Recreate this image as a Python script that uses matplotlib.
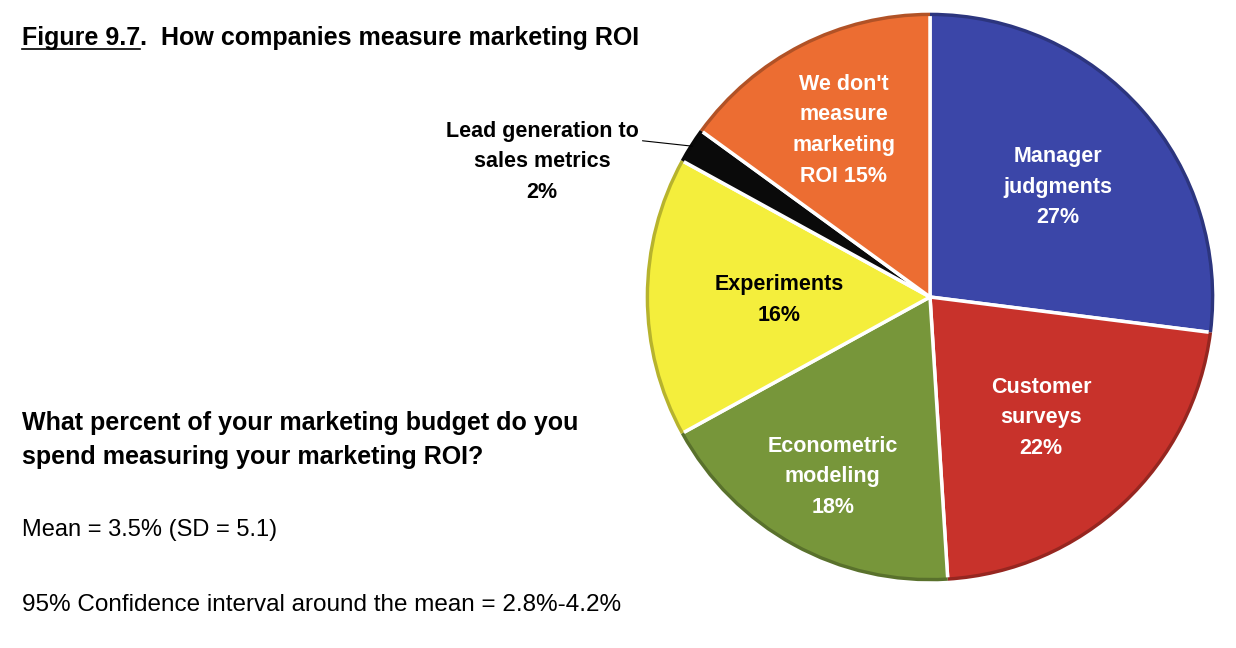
import matplotlib
matplotlib.use("Agg")
import matplotlib.pyplot as plt
import numpy as np

# slice data, clockwise from 12 o'clock
labels = ["Manager\njudgments\n27%", "Customer\nsurveys\n22%", "Econometric\nmodeling\n18%",
          "Experiments\n16%", "Lead generation to\nsales metrics\n2%",
          "We don't\nmeasure\nmarketing\nROI 15%"]
values = [27, 22, 18, 16, 2, 15]
colors = ["#3b46a8", "#c8322b", "#77963a", "#f4ee3c", "#0a0a0a", "#ec6d32"]
text_colors = ["white", "white", "white", "black", "black", "white"]
label_radius = [0.60, 0.57, 0.71, 0.53, None, 0.67]

title_fig = "Figure 9.7"
title_rest = ".  How companies measure marketing ROI"
question = "What percent of your marketing budget do you\nspend measuring your marketing ROI?"
mean_text = "Mean = 3.5% (SD = 5.1)"
ci_text = "95% Confidence interval around the mean = 2.8%-4.2%"

plt.rcParams["font.family"] = ["Liberation Sans Narrow", "Liberation Sans", "DejaVu Sans"]

W, H = 1236, 648
fig = plt.figure(figsize=(W / 100, H / 100), dpi=100)

# pie axes: centre (930, 297) px, radius 290 px
cx, cy, r = 930, 297, 290
ax = fig.add_axes([(cx - r) / W, (H - cy - r) / H, 2 * r / W, 2 * r / H])
wedges, _ = ax.pie(values, colors=colors, startangle=90, counterclock=False,
                   radius=1.0, wedgeprops=dict(edgecolor="white", linewidth=2.5))
# darker rim for a bit of depth
for w, c in zip(wedges, colors):
    rgb = np.array(matplotlib.colors.to_rgb(c)) * 0.75
    ax.add_patch(matplotlib.patches.Wedge((0, 0), 1.0, w.theta1, w.theta2, width=0.012,
                                          facecolor=rgb, edgecolor="none"))
ax.set_xlim(-1.02, 1.02)
ax.set_ylim(-1.02, 1.02)
ax.set_aspect("equal")
ax.axis("off")

for w, lab, tc, lr in zip(wedges, labels, text_colors, label_radius):
    mid = np.radians((w.theta1 + w.theta2) / 2)
    if lr is not None:
        ax.text(lr * np.cos(mid), lr * np.sin(mid) - 0.01, lab, ha="center", va="center",
                color=tc, fontsize=15.5, fontweight="bold", linespacing=1.6)
    else:
        x0, y0 = 0.99 * np.cos(mid), 0.99 * np.sin(mid)
        ax.annotate(lab, xy=(x0, y0), xytext=(x0 - 0.19, y0 + 0.09),
                    ha="right", va="top", fontsize=15.5, fontweight="bold",
                    multialignment="center", linespacing=1.6,
                    arrowprops=dict(arrowstyle="-", color="black", lw=0.8,
                                    shrinkA=1, shrinkB=0, relpos=(1.0, 0.76)),
                    annotation_clip=False)

# title with underlined "Figure 9.7"
t1 = fig.text(22 / W, 1 - 45 / H, title_fig, fontsize=18, fontweight="bold", va="baseline")
fig.canvas.draw()
bb = t1.get_window_extent()
fig.add_artist(plt.Line2D([bb.x0 / W, bb.x1 / W], [(H - 49) / H, (H - 49) / H],
                          color="black", lw=1.2, transform=fig.transFigure))
fig.text(bb.x1 / W, 1 - 45 / H, title_rest, fontsize=18, fontweight="bold", va="baseline")

fig.text(22 / W, 1 - 440 / H, question, fontsize=18, fontweight="bold", va="center",
         linespacing=1.55)
fig.text(22 / W, 1 - 530 / H, mean_text, fontsize=17, va="center")
fig.text(22 / W, 1 - 605 / H, ci_text, fontsize=17.5, va="center")

fig.savefig("out.png", dpi=100, facecolor="white")
